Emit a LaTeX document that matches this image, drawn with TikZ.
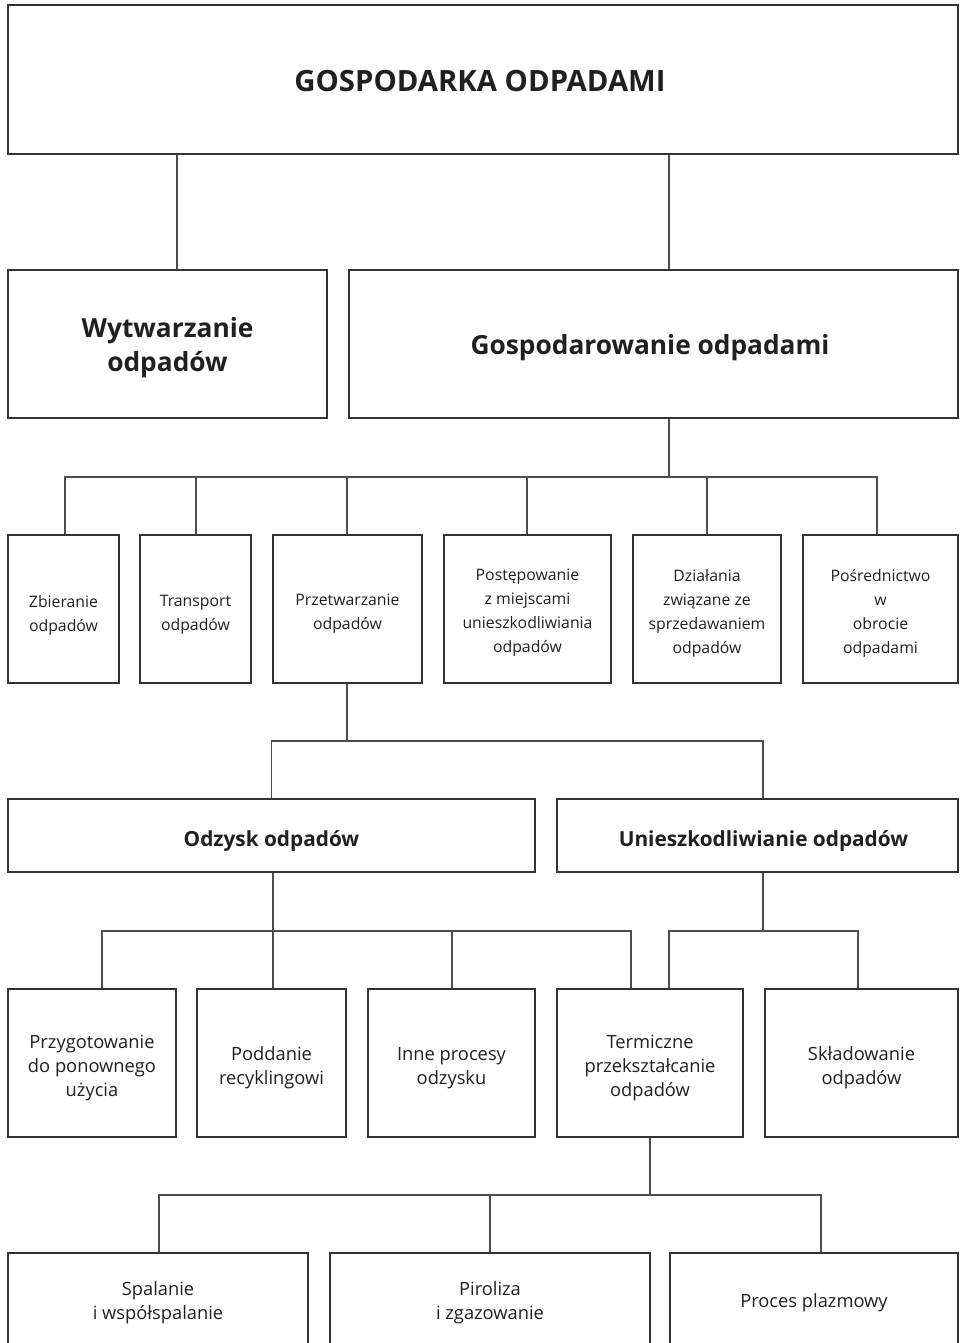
\documentclass[tikz,border=0pt]{standalone}
\usepackage{fontspec}
\setmainfont{Open Sans}
% #1 name, #2 font style, #3 position, #4 width, #5 height, #6 text shift down, #7 text
\newcommand{\orgbox}[7]{%
  \node[box, minimum width=#4, minimum height=#5] (#1) at #3 {};
  \node[txt, #2] (#1-t) at ([yshift=-#6]#1.center) {#7};}
\begin{document}
\begin{tikzpicture}[x=1pt,y=-1pt,
  box/.style={draw=boxc, line width=2pt, rectangle, inner sep=0pt},
  txt/.style={inner sep=0pt, align=center, text=txtc},
  conn/.style={draw=connc, line width=1.2pt},
  fTitle/.style={font=\bfseries\fontsize{29.3}{35}\selectfont},
  fBig/.style={font=\bfseries\fontsize{26.3}{34}\selectfont},
  fMid/.style={font=\bfseries\fontsize{20.8}{24}\selectfont},
  fSmall/.style={font=\fontsize{15.8}{24}\selectfont},
  fLeaf/.style={font=\fontsize{18.3}{24}\selectfont}]
\definecolor{boxc}{HTML}{333333}
\definecolor{connc}{HTML}{4D4D4D}
\definecolor{txtc}{HTML}{231F20}
\fill[white] (0,0) rectangle (959,1343);
\useasboundingbox (0,0) rectangle (959,1343);
\clip (0,0) rectangle (959,1343);

% level 0
\orgbox{top}{fTitle}{(483,79.5)}{950pt}{149pt}{2pt}{\hspace*{-6pt}GOSPODARKA ODPADAMI}
% level 1
\orgbox{wyt}{fBig}{(167.5,344)}{319pt}{148pt}{4pt}{Wytwarzanie\\odpadów}
\orgbox{gosp}{fBig}{(653.5,344)}{609pt}{148pt}{4pt}{\hspace*{-7pt}Gospodarowanie odpadami}
% level 2
\orgbox{zb}{fSmall}{(63.5,609)}{111pt}{148pt}{6pt}{Zbieranie\\odpadów}
\orgbox{tr}{fSmall}{(195.5,609)}{111pt}{148pt}{6pt}{Transport\\odpadów}
\orgbox{prz}{fSmall}{(347.5,609)}{149pt}{148pt}{5pt}{Przetwarzanie\\odpadów}
\orgbox{pos}{fSmall}{(527.5,609)}{167pt}{148pt}{4pt}{Postępowanie\\z miejscami\\unieszkodliwiania\\odpadów}
\orgbox{dz}{fSmall}{(707,609)}{148pt}{148pt}{4pt}{Działania\\związane ze\\sprzedawaniem\\odpadów}
\orgbox{posr}{fSmall}{(880.5,609)}{155pt}{148pt}{4pt}{Pośrednictwo\\w\\obrocie\\odpadami}
% level 3
\orgbox{odz}{fMid}{(271.5,835.5)}{527pt}{73pt}{6pt}{Odzysk odpadów}
\orgbox{uni}{fMid}{(757.5,835.5)}{401pt}{73pt}{6pt}{\hspace*{12pt}Unieszkodliwianie odpadów}
% level 4
\orgbox{przyg}{fLeaf}{(92,1063)}{168pt}{148pt}{5pt}{Przygotowanie\\do ponownego\\użycia}
\orgbox{podd}{fLeaf}{(271.5,1063)}{149pt}{148pt}{5pt}{Poddanie\\recyklingowi}
\orgbox{inne}{fLeaf}{(451.5,1063)}{167pt}{148pt}{5pt}{Inne procesy\\odzysku}
\orgbox{term}{fLeaf}{(650,1063)}{186pt}{148pt}{5pt}{Termiczne\\przekształcanie\\odpadów}
\orgbox{skl}{fLeaf}{(861.5,1063)}{193pt}{148pt}{5pt}{Składowanie\\odpadów}
% level 5
\orgbox{spal}{fLeaf}{(158,1300.5)}{300pt}{95pt}{2pt}{Spalanie\\i współspalanie}
\orgbox{piro}{fLeaf}{(490,1300.5)}{320pt}{95pt}{2pt}{Piroliza\\i zgazowanie}
\orgbox{proc}{fLeaf}{(814,1300.5)}{288pt}{95pt}{2pt}{Proces plazmowy}

% connectors level 0 -> 1
\path ([xshift=9.5pt]wyt.north) coordinate (w1);
\path ([xshift=15.5pt]gosp.north) coordinate (g1);
\draw[conn] (w1) -- (w1 |- top.south);
\draw[conn] (g1) -- (g1 |- top.south);

% gosp -> level 2
\coordinate (j2) at (669,477);
\draw[conn] (gosp.south -| j2) -- (j2);
\draw[conn] (j2) -| ([xshift=1.5pt]zb.north);
\draw[conn] (j2) -| ([xshift=0.5pt]tr.north);
\draw[conn] (j2) -| ([xshift=-0.5pt]prz.north);
\draw[conn] (j2) -| ([xshift=-0.5pt]pos.north);
\draw[conn] (j2) -| (dz.north);
\draw[conn] (j2) -| ([xshift=-3.5pt]posr.north);

% prz -> level 3
\coordinate (j3) at (347,741);
\draw[conn] (prz.south -| j3) -- (j3);
\draw[conn] (j3) -| (odz.north);
\draw[conn] (j3) -| ([xshift=5.5pt]uni.north);

% odz -> level 4
\coordinate (j4) at (273,931);
\draw[conn] (odz.south -| j4) -- (j4);
\draw[conn] (j4) -| ([xshift=10pt]przyg.north);
\draw[conn] (j4) -| ([xshift=1.5pt]podd.north);
\draw[conn] (j4) -| ([xshift=0.5pt]inne.north);
\draw[conn] (j4) -| ([xshift=-19pt]term.north);

% uni -> level 4
\coordinate (j5) at (763,931);
\draw[conn] (uni.south -| j5) -- (j5);
\draw[conn] (j5) -| ([xshift=19pt]term.north);
\draw[conn] (j5) -| ([xshift=-3.5pt]skl.north);

% term -> level 5
\coordinate (j6) at (650,1195);
\draw[conn] (term.south -| j6) -- (j6);
\draw[conn] (j6) -| ([xshift=1pt]spal.north);
\draw[conn] (j6) -| (piro.north);
\draw[conn] (j6) -| ([xshift=7pt]proc.north);
\end{tikzpicture}
\end{document}
